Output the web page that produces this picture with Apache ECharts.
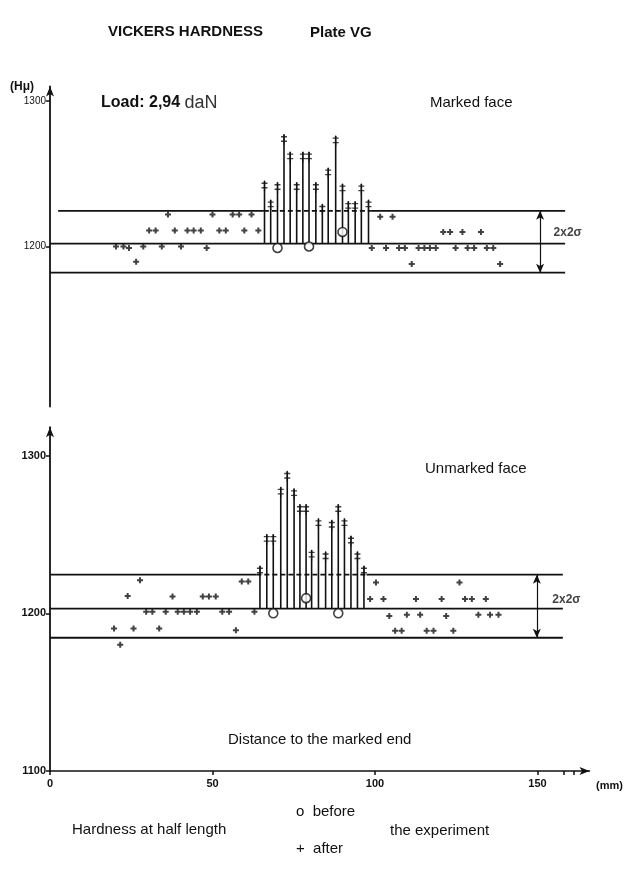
<!DOCTYPE html>
<html><head><meta charset="utf-8">
<script src="https://cdn.jsdelivr.net/npm/echarts@6/dist/echarts.min.js"></script>
<style>html,body{margin:0;padding:0;background:#fff}#c{width:640px;height:883px}</style>
</head><body><div id="c"></div>
<script>
// ---------- DATA (mm, Hv) ----------
// Marked face (top panel)
const topAfterX = [20.3,22.6,24.3,26.5,28.7,30.5,32.5,34.4,36.3,38.4,40.3,42.3,44.2,46.4,48.2,50.0,52.1,54.1,56.2,58.2,59.8,62.0,64.1,
  99.0,101.6,103.4,105.4,107.4,109.2,111.3,113.4,115.2,116.9,118.7,121.0,123.1,124.8,126.9,128.5,130.5,132.6,134.4,136.4,138.5];
const topAfterY = [1200,1200,1199,1189.5,1200,1211,1211,1200,1222,1211,1200,1211,1211,1211,1199,1222,1211,1211,1222,1222,1211,1222,1211,
  1199,1220.5,1199,1220.5,1199,1199,1188,1199,1199,1199,1199,1210,1210,1199,1210,1199,1199,1210,1199,1199,1188];
const topStemX = [66.0,67.9,70.0,72.0,73.9,75.9,77.8,79.7,81.8,83.8,85.6,87.9,90.0,91.8,93.9,95.8,98.0];
const topStemY = [1245,1232,1244,1277,1265,1244,1265,1265,1244,1229,1254,1276,1243,1231,1231,1243,1232];
const topBeforeX = [70.0,79.7,90.0];
const topBeforeY = [1199,1200,1210];
const topBands = [1182, 1202, 1224.5];          // lower, mean, upper
// Unmarked face (bottom panel)
const botAfterX = [19.7,21.6,23.9,25.7,27.7,29.6,31.5,33.6,35.6,37.7,39.3,41.2,43.1,45.2,47.0,48.9,51.0,53.0,55.1,57.2,59.0,61.0,62.9,
  98.5,100.3,102.6,104.4,106.2,108.2,109.8,112.6,113.9,115.9,118.0,120.5,121.9,124.1,126.0,127.7,129.8,131.8,134.1,135.4,138.0];
const botAfterY = [1190.4,1180,1211,1190.4,1221,1201,1201,1190.4,1201,1210.6,1201,1201,1201,1201,1210.6,1210.6,1210.6,1201,1201,1189.3,1220.2,1220.2,1201,
  1209,1219.6,1209,1198.3,1189,1189,1199,1209,1199,1189,1189,1209,1198.3,1189,1219.6,1209,1209,1199,1209,1199,1199];
const botStemX = [64.6,66.7,68.7,71.0,73.0,75.1,76.9,78.8,80.5,82.6,84.8,86.7,88.7,90.6,92.6,94.6,96.6];
const botStemY = [1230,1250,1250,1280,1290,1279,1269,1269,1240,1260,1239,1259,1269,1260,1249,1239,1230];
const botBeforeX = [68.7,78.8,88.7];
const botBeforeY = [1200,1209.6,1200];
const botBands = [1184.5, 1203, 1224.5];
// band line extents (mm)
const topUpperSolid = [[2.5,65.8],[98.5,158.5]];
const topUpperDashed = [65.8,98.5];
const topFull = [0,158.5];
const botUpperSolid = [[0,63.5],[97.4,157.8]];
const botUpperDashed = [63.5,97.4];
const botFull = [0,157.8];
const sigmaArrowX = [150.8, 149.8];
const sigmaLabelPos = [[154.8,1209.3],[154.4,1208.5]];
// axes
const xTickLabels = [0,50,100,150];
const xTickMarks = [0,50,100,150,158,161];
const topYTicks = [1200,1300];
const botYTicks = [1100,1200,1300];
const xRange = [0,166];
const topYRange = [1090,1310];
const botYRange = [1100,1318];

// ---------- CHART ----------
const chart = echarts.init(document.getElementById('c'), null, {renderer:'canvas'});
const INK = '#111';
const FONT = 'Liberation Sans, Arial, sans-serif';
const zip = (a,b) => a.map((v,i)=>[v,b[i]]);
const PLUS = 'path://M0,2H6V4H0Z M2,0H4V6H2Z';
const DPLUS = 'path://M2.4,0H3.6V11H2.4Z M0,2H6V3.4H0Z M0,6.5H6V7.9H0Z';
const plain = v => String(v);

function seg(gi, x0, x1, v, dashed){
  return {type:'line', xAxisIndex:gi, yAxisIndex:gi, data:[[x0,v],[x1,v]], symbol:'none', silent:true,
    lineStyle:{color:INK, width:1.8, type: dashed ? [5,3] : 'solid'}, z:2};
}
function panel(gi, afterX, afterY, stemX, stemY, befX, befY, bands, upSolid, upDash, full, arrowX, labelPos){
  const s = [];
  upSolid.forEach(r => s.push(seg(gi, r[0], r[1], bands[2], false)));
  s.push(seg(gi, upDash[0], upDash[1], bands[2], true));
  s.push(seg(gi, full[0], full[1], bands[1], false));
  s.push(seg(gi, full[0], full[1], bands[0], false));
  const base = bands[1];
  s.push({type:'custom', xAxisIndex:gi, yAxisIndex:gi, data: zip(stemX, stemY), silent:true, z:3,
    renderItem:(p, api)=>{
      const a = api.coord([api.value(0), base]);
      const b = api.coord([api.value(0), api.value(1)]);
      return {type:'line', shape:{x1:a[0], y1:a[1], x2:b[0], y2:b[1]}, style:{stroke:INK, lineWidth:1.6}};
    }});
  s.push({type:'scatter', xAxisIndex:gi, yAxisIndex:gi, data: zip(stemX, stemY), symbol:DPLUS, symbolSize:[6,11],
    symbolOffset:[0,5], itemStyle:{color:INK}, silent:true, z:4});
  s.push({type:'scatter', xAxisIndex:gi, yAxisIndex:gi, data: zip(afterX, afterY), symbol:PLUS, symbolSize:6,
    itemStyle:{color:INK}, silent:true, z:4});
  s.push({type:'scatter', xAxisIndex:gi, yAxisIndex:gi, data: zip(befX, befY), symbol:'circle', symbolSize:9,
    itemStyle:{color:'#fff', borderColor:INK, borderWidth:1.6}, silent:true, z:5});
  s.push({type:'scatter', xAxisIndex:gi, yAxisIndex:gi, data:[labelPos], symbolSize:1, itemStyle:{color:'rgba(0,0,0,0)'},
    silent:true, z:5,
    label:{show:true, position:'right', distance:0, formatter:'2x2σ', color:INK, fontFamily:FONT, fontSize:12, fontWeight:'bold'},
    markLine:{silent:true, symbol:['arrow','arrow'], symbolSize:[6,9], label:{show:false},
      lineStyle:{color:INK, width:1.2, type:'solid'},
      data:[[{coord:[arrowX, bands[0]]},{coord:[arrowX, bands[2]]}]]}});
  return s;
}

const L = 50, W = 539.5;
const option = {
  backgroundColor:'#fff',
  animation:false,
  grid:[
    {left:L, width:W, top:86.5, height:320},
    {left:L, width:W, top:427.2, height:343.8}
  ],
  xAxis:[
    {type:'value', gridIndex:0, min:xRange[0], max:xRange[1], show:false},
    {type:'value', gridIndex:1, min:xRange[0], max:xRange[1], splitLine:{show:false},
      axisLine:{show:true, onZero:false, symbol:['none','arrow'], symbolSize:[6,10], lineStyle:{color:INK, width:1.5}},
      axisTick:{show:true, length:4, customValues:xTickMarks, lineStyle:{color:INK, width:1.5}},
      axisLabel:{customValues:xTickLabels, formatter:plain, color:INK, fontFamily:FONT, fontSize:11, fontWeight:'bold', margin:7}}
  ],
  yAxis:[
    {type:'value', gridIndex:0, min:topYRange[0], max:topYRange[1], splitLine:{show:false},
      axisLine:{show:true, onZero:false, symbol:['none','arrow'], symbolSize:[6,10], lineStyle:{color:INK, width:1.8}},
      axisTick:{show:true, length:4, customValues:topYTicks, lineStyle:{color:INK, width:1.5}},
      axisLabel:{customValues:topYTicks, formatter:plain, color:INK, fontFamily:FONT, fontSize:10, margin:4}},
    {type:'value', gridIndex:1, min:botYRange[0], max:botYRange[1], splitLine:{show:false},
      axisLine:{show:true, onZero:false, symbol:['none','arrow'], symbolSize:[6,10], lineStyle:{color:INK, width:1.8}},
      axisTick:{show:true, length:4, customValues:botYTicks, lineStyle:{color:INK, width:1.5}},
      axisLabel:{customValues:botYTicks, formatter:plain, color:INK, fontFamily:FONT, fontSize:11, fontWeight:'bold', margin:4}}
  ],
  series:[
    ...panel(0, topAfterX, topAfterY, topStemX, topStemY, topBeforeX, topBeforeY, topBands, topUpperSolid, topUpperDashed, topFull, sigmaArrowX[0], sigmaLabelPos[0]),
    ...panel(1, botAfterX, botAfterY, botStemX, botStemY, botBeforeX, botBeforeY, botBands, botUpperSolid, botUpperDashed, botFull, sigmaArrowX[1], sigmaLabelPos[1])
  ],
  graphic:[
    {type:'text', left:108, top:24, style:{text:'VICKERS HARDNESS', font:'bold 15px '+FONT, fill:INK}},
    {type:'text', left:310, top:25, style:{text:'Plate VG', font:'bold 15px '+FONT, fill:INK}},
    {type:'text', left:10, top:81, style:{text:'(Hμ)', font:'bold 12px '+FONT, fill:INK}},
    {type:'text', left:101, top:94, style:{text:'{a|Load: 2,94 }{b|daN}', fill:INK,
      rich:{a:{fontFamily:FONT, fontSize:16, fontWeight:'bold', fill:INK}, b:{fontFamily:FONT, fontSize:18, fill:'#333'}}}},
    {type:'text', left:430, top:95, style:{text:'Marked face', font:'15px '+FONT, fill:INK}},
    {type:'text', left:425, top:461, style:{text:'Unmarked face', font:'15px '+FONT, fill:INK}},
    {type:'text', left:228, top:732, style:{text:'Distance to the marked end', font:'15px '+FONT, fill:INK}},
    {type:'text', left:596, top:780, style:{text:'(mm)', font:'bold 11px '+FONT, fill:INK}},
    {type:'text', left:72, top:822, style:{text:'Hardness at half length', font:'15px '+FONT, fill:INK}},
    {type:'text', left:296, top:804, style:{text:'o  before', font:'15px '+FONT, fill:INK}},
    {type:'text', left:296, top:841, style:{text:'+  after', font:'15px '+FONT, fill:INK}},
    {type:'text', left:390, top:823, style:{text:'the experiment', font:'15px '+FONT, fill:INK}}
  ]
};
chart.setOption(option);
</script></body></html>
